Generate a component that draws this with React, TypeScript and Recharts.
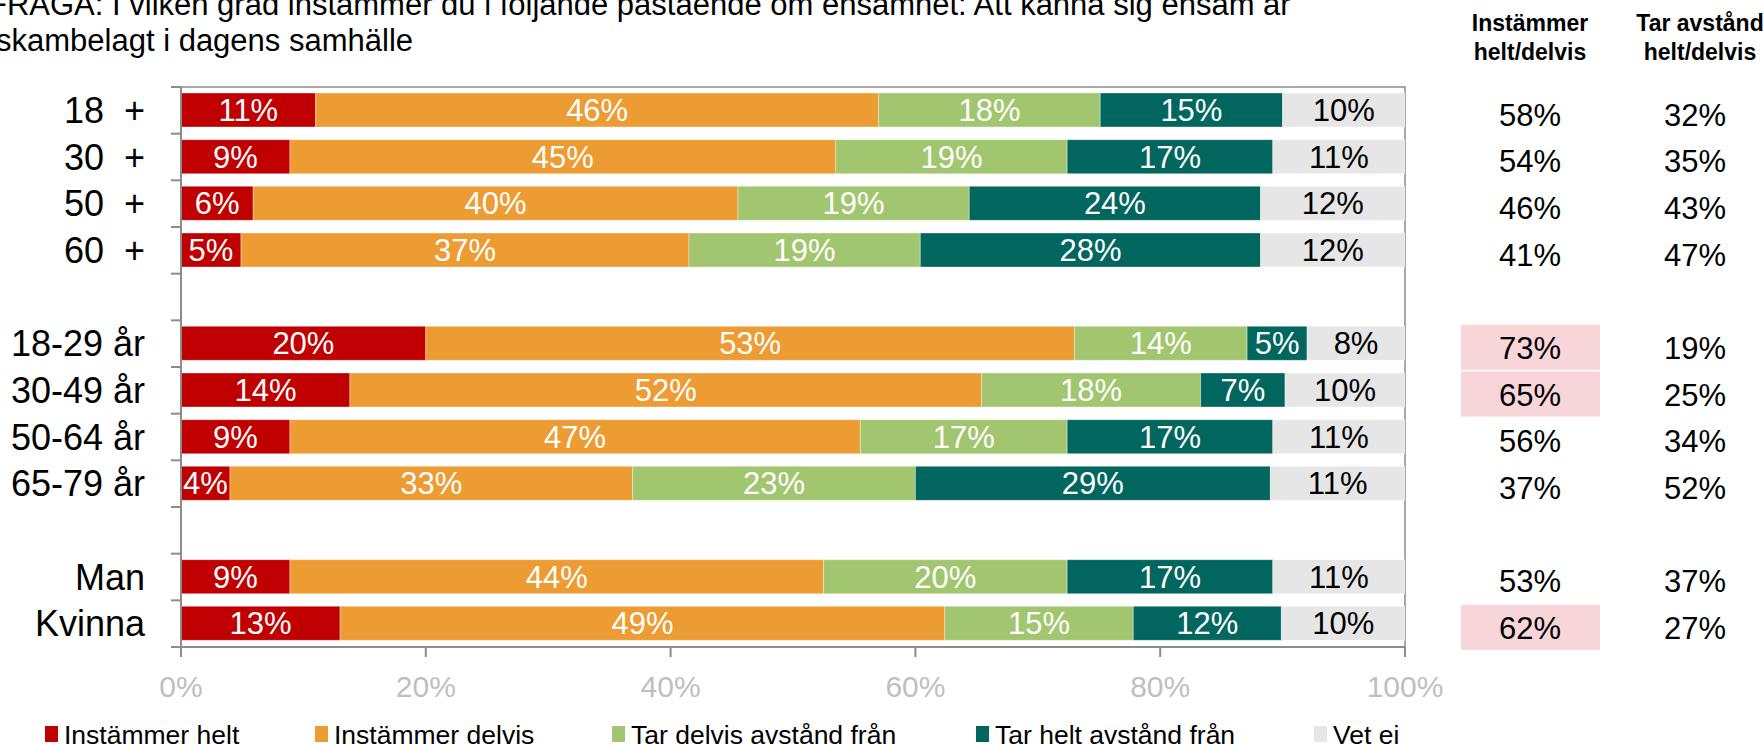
import React from "react";
import { BarChart, Bar, XAxis, YAxis, ReferenceArea, LabelList } from "recharts";

// ---- data ----
const CATEGORIES = ["18  +", "30  +", "50  +", "60  +", " ", "18-29 år", "30-49 år", "50-64 år", "65-79 år", "  ", "Man", "Kvinna"];
const INSTAMMER_HELT = [11.0, 8.9, 5.9, 4.9, null, 20.0, 13.8, 8.9, 4.0, null, 8.9, 13.0];
const INSTAMMER_DELVIS = [46.0, 44.6, 39.6, 36.6, null, 53.0, 51.6, 46.6, 32.9, null, 43.6, 49.4];
const TAR_DELVIS = [18.1, 18.9, 18.9, 18.9, null, 14.1, 17.9, 16.9, 23.1, null, 19.9, 15.4];
const TAR_HELT = [14.9, 16.8, 23.8, 27.8, null, 4.9, 6.9, 16.8, 29.0, null, 16.8, 12.1];
const VET_EJ = [10.0, 10.8, 11.8, 11.8, null, 8.0, 9.8, 10.8, 11.0, null, 10.8, 10.1];

const AGREE_TOTAL = [58, 54, 46, 41, null, 73, 65, 56, 37, null, 53, 62];
const DISTANCE_TOTAL = [32, 35, 43, 47, null, 19, 25, 34, 52, null, 37, 27];
const HIGHLIGHT = [false, false, false, false, null, true, true, false, false, null, false, true];

const X_TICKS = [0, 20, 40, 60, 80, 100];

const SERIES = [
  { key: "helt", name: "Instämmer helt", values: INSTAMMER_HELT, color: "#C00000", text: "#ffffff" },
  { key: "delvis", name: "Instämmer delvis", values: INSTAMMER_DELVIS, color: "#ED9B33", text: "#ffffff" },
  { key: "tarDelvis", name: "Tar delvis avstånd från", values: TAR_DELVIS, color: "#A2C66F", text: "#ffffff" },
  { key: "tarHelt", name: "Tar helt avstånd från", values: TAR_HELT, color: "#00665E", text: "#ffffff" },
  { key: "vetEj", name: "Vet ej", values: VET_EJ, color: "#E6E6E6", text: "#000000" },
];

// ---- layout ----
const W = 1763;
const H = 744;
const FONT = "'Liberation Sans', Arial, sans-serif";
const AXIS_GRAY = "#8c8c8c";
const AXIS_X = 181;
const COL1_X = 1530;
const COL2_X = 1695;
const LEGEND_X = [45, 315, 612, 976, 1314];

const data = CATEGORIES.map((name, i) => {
  const row: any = {
    name,
    agree: AGREE_TOTAL[i],
    distance: DISTANCE_TOTAL[i],
    highlight: HIGHLIGHT[i],
  };
  SERIES.forEach((s) => {
    row[s.key] = s.values[i];
  });
  return row;
});

const fmt = (v: any) => (v == null || v === "" ? "" : `${Math.round(Number(v))}%`);

function box(props: any) {
  const vb = props.viewBox || {};
  const y = Number(vb.y ?? props.y);
  const h = Number(vb.height ?? props.height);
  return y + h / 2;
}

const YTick = (props: any) => {
  const { x, y, payload, index } = props;
  const half = payload?.offset ? payload.offset : 560 / CATEGORIES.length / 2;
  const last = index === CATEGORIES.length - 1;
  return (
    <g>
      <line x1={AXIS_X - 10} x2={AXIS_X} y1={y - half} y2={y - half} stroke={AXIS_GRAY} strokeWidth={2} />
      {last && <line x1={AXIS_X - 10} x2={AXIS_X} y1={y + half} y2={y + half} stroke={AXIS_GRAY} strokeWidth={2} />}
      <text
        x={x}
        y={y}
        textAnchor="end"
        dominantBaseline="central"
        fontSize={36}
        fill="#000"
        fontFamily={FONT}
        style={{ whiteSpace: "pre" }}
      >
        {payload.value}
      </text>
    </g>
  );
};

const HighlightCell = (props: any) => {
  if (!props.value) return null;
  const cy = box(props);
  return <rect x={COL1_X - 69} y={cy + 4 - 22.5} width={139} height={45} fill="#F8D5D9" />;
};

const makeTableCell = (cx: number) => (props: any) => {
  if (props.value == null || props.value === "") return null;
  const cy = box(props);
  return (
    <text x={cx} y={cy + 5} textAnchor="middle" dominantBaseline="central" fontSize={31} fill="#000" fontFamily={FONT}>
      {`${props.value}%`}
    </text>
  );
};

export default function App() {
  return (
    <div style={{ position: "absolute", left: 0, top: 0, width: W, height: H, overflow: "hidden", background: "#fff", fontFamily: FONT }}>
      <BarChart
        width={W}
        height={H}
        data={data}
        layout="vertical"
        margin={{ top: 87, right: W - 1405, bottom: 57, left: 0 }}
        style={{ fontFamily: FONT }}
      >
        <XAxis
          type="number"
          domain={[0, 100]}
          allowDataOverflow
          ticks={X_TICKS}
          tickFormatter={(v) => `${v}%`}
          tick={{ fill: "#bfbfbf", fontSize: 30, fontFamily: FONT }}
          tickSize={10}
          tickMargin={19}
          height={40}
          axisLine={{ stroke: AXIS_GRAY, strokeWidth: 2 }}
          tickLine={{ stroke: AXIS_GRAY, strokeWidth: 2 }}
        />
        <YAxis
          type="category"
          dataKey="name"
          width={AXIS_X}
          interval={0}
          tickSize={10}
          tickMargin={26}
          tickLine={false}
          axisLine={{ stroke: AXIS_GRAY, strokeWidth: 2 }}
          tick={(p: any) => <YTick {...p} />}
        />
        {SERIES.map((s, si) => (
          <Bar
            key={s.key}
            dataKey={s.key}
            name={s.name}
            stackId="a"
            fill={s.color}
            barSize={34}
            stroke="rgba(255,255,255,0.35)"
            strokeWidth={1}
            isAnimationActive={false}
          >
            <LabelList dataKey={s.key} position="center" fill={s.text} fontSize={31} fontFamily={FONT} formatter={fmt} />
            {si === SERIES.length - 1 && <LabelList dataKey="highlight" content={HighlightCell} />}
            {si === SERIES.length - 1 && <LabelList dataKey="agree" content={makeTableCell(COL1_X)} />}
            {si === SERIES.length - 1 && <LabelList dataKey="distance" content={makeTableCell(COL2_X)} />}
          </Bar>
        ))}
        <ReferenceArea x1={0} x2={100} fill="none" stroke={AXIS_GRAY} strokeWidth={1.5} ifOverflow="visible" />
      </BarChart>

      <svg width={W} height={H} style={{ position: "absolute", left: 0, top: 0, pointerEvents: "none" }} fontFamily={FONT}>
        <text x={-12} y={15} fontSize={31} fill="#000">
          FRÅGA: I vilken grad instämmer du i följande påstående om ensamhet: Att känna sig ensam är
        </text>
        <text x={-4} y={51} fontSize={31} fill="#000">
          skambelagt i dagens samhälle
        </text>

        <text x={COL1_X} y={31} fontSize={23} fontWeight="bold" textAnchor="middle" fill="#000">Instämmer</text>
        <text x={COL1_X} y={60} fontSize={23} fontWeight="bold" textAnchor="middle" fill="#000">helt/delvis</text>
        <text x={1700} y={31} fontSize={23} fontWeight="bold" textAnchor="middle" fill="#000">Tar avstånd</text>
        <text x={1700} y={60} fontSize={23} fontWeight="bold" textAnchor="middle" fill="#000">helt/delvis</text>

        {SERIES.map((s, i) => (
          <g key={s.key}>
            <rect x={LEGEND_X[i]} y={726} width={13} height={16} fill={s.color} />
            <text x={LEGEND_X[i] + 19} y={744} fontSize={26.5} fill="#000">{s.name}</text>
          </g>
        ))}
      </svg>
    </div>
  );
}
